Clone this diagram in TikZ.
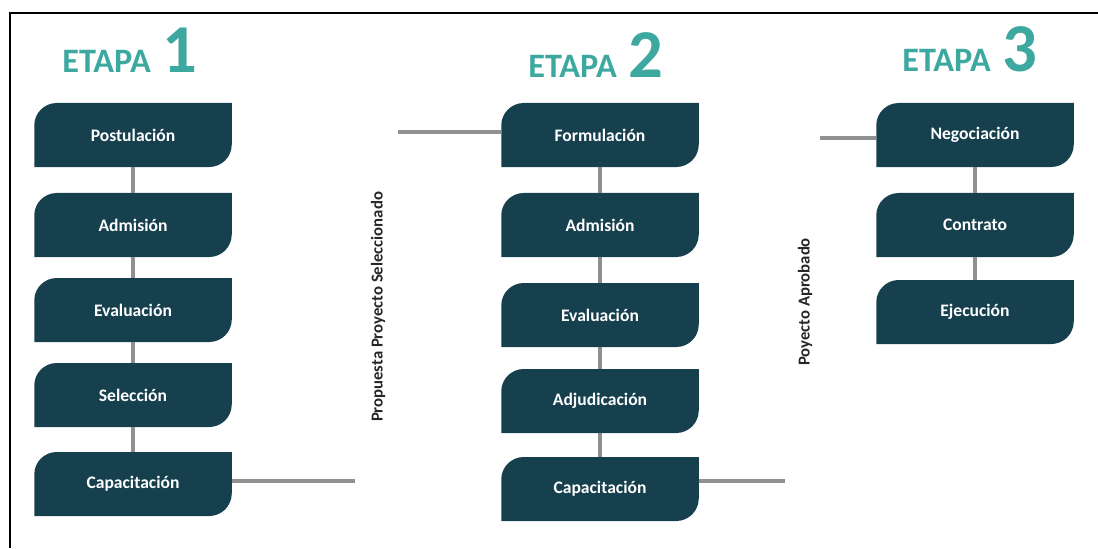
\documentclass[tikz,border=0pt]{standalone}
\usepackage{fontspec}
\setmainfont{Carlito}
\usepackage{tikz}
\usetikzlibrary{positioning}

\definecolor{boxblue}{HTML}{17404F}
\definecolor{etapateal}{HTML}{3DA8A0}
\definecolor{linkgray}{HTML}{909090}

\newcommand{\etapatext}[1]{\fontsize{19.5}{21}\selectfont\bfseries ETAPA\hspace{0.35em}\fontsize{39}{40}\selectfont #1}

\begin{document}
\begin{tikzpicture}[
	box/.style={minimum width=3.95cm, minimum height=1.28cm, inner sep=0pt, text=white,
		font=\bfseries\fontsize{10}{12}\selectfont,
		path picture={\fill[boxblue] (path picture bounding box.south west)
			-- ([yshift=-0.45cm]path picture bounding box.north west)
			arc[start angle=180, end angle=90, radius=0.45cm]
			-- (path picture bounding box.north east)
			-- ([yshift=0.45cm]path picture bounding box.south east)
			arc[start angle=0, end angle=-90, radius=0.45cm] -- cycle;}},
	link/.style={linkgray, line width=2pt},
	etapa/.style={anchor=base west, inner sep=0pt, text=etapateal},
	sidelabel/.style={rotate=90, text=black!85, font=\bfseries\fontsize{9.5}{11}\selectfont}]
	\useasboundingbox (0, 0) rectangle (21.96, 10.96);
	% frame
	\draw[line width=1.5pt] (0.2, 0) -- (0.2, 10.7) -- (21.96, 10.7);

	% headings
	\node[etapa] (h1) at (1.24, 9.5) {\etapatext{1}};
	\node[etapa] (h2) at (10.56, 9.4) {\etapatext{2}};
	\node[etapa] (h3) at (18.04, 9.52) {\etapatext{3}};

	% etapa 1
	\node[box] (p1) at (2.66, 8.26) {Postulación};
	\node[box] (a1) at (2.66, 6.46) {Admisión};
	\node[box] (e1) at (2.66, 4.76) {Evaluación};
	\node[box] (s1) at (2.66, 3.06) {Selección};
	\node[box] (c1) at (2.66, 1.28) {Capacitación};
	\draw[link] (p1) -- (a1);
	\draw[link] (a1) -- (e1);
	\draw[link] (e1) -- (s1);
	\draw[link] (s1) -- (c1);

	% etapa 2
	\node[box] (f2) at (12.0, 8.26) {Formulación};
	\node[box] (a2) at (12.0, 6.46) {Admisión};
	\node[box] (e2) at (12.0, 4.66) {Evaluación};
	\node[box] (d2) at (12.0, 2.94) {Adjudicación};
	\node[box] (c2) at (12.0, 1.18) {Capacitación};
	\draw[link] (f2) -- (a2);
	\draw[link] (a2) -- (e2);
	\draw[link] (e2) -- (d2);
	\draw[link] (d2) -- (c2);

	% etapa 3
	\node[box] (n3) at (19.5, 8.26) {Negociación};
	\node[box] (k3) at (19.5, 6.46) {Contrato};
	\node[box] (j3) at (19.5, 4.72) {Ejecución};
	\draw[link] (n3) -- (k3);
	\draw[link] (k3) -- (j3);

	% transitions
	\node[sidelabel] (sel) at (7.56, 4.82) {Propuesta Proyecto Seleccionado};
	\node[sidelabel] (apr) at (16.1, 4.92) {Poyecto Aprobado};
	\coordinate (t1) at (7.1, 1.34);
	\coordinate (t2) at (7.96, 8.32);
	\coordinate (t3) at (15.7, 1.34);
	\coordinate (t4) at (16.4, 8.2);
	\draw[link] (c1.east |- t1) -- (t1);
	\draw[link] (t2) -- (f2.west |- t2);
	\draw[link] (c2.east |- t3) -- (t3);
	\draw[link] (t4) -- (n3.west |- t4);
\end{tikzpicture}
\end{document}
